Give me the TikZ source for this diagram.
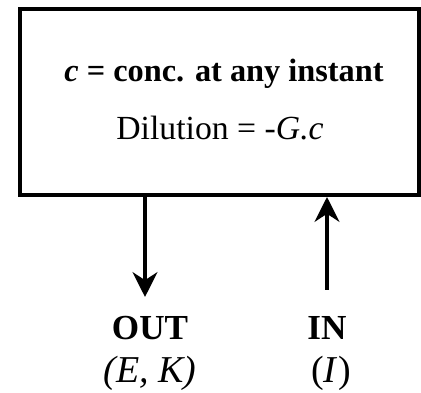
\documentclass[tikz,border=0pt]{standalone}
\usepackage{fontspec}
\setmainfont{Liberation Serif}
\usetikzlibrary{arrows.meta}

\begin{document}
\begin{tikzpicture}[
		wand/.style={draw, rectangle, line width=0.1cm},
		fluss/.style={line width=0.1cm, -{Stealth[length=0.62cm, width=0.62cm, inset=0.2cm]}},
		schrift/.style={inner sep=0pt, anchor=base, font=\fontsize{#1}{#1}\selectfont},
		schrift/.default=23
	]
	%\draw [lightgray](0,0) grid (10,10);
	\useasboundingbox (0,0) rectangle (10.525,9.825);
	
	% Zeichnet den Behaelter
	\node[wand, minimum width=9.975cm, minimum height=4.65cm] (tank) at (5.4875,7.275) {};
	
	% Schreibt die Konzentration und die Verduennung
	\node[schrift=23] (konz) at (5.6,7.775) {\textbf{\textit{c} = conc. at any instant}};
	\node[schrift=24] (verd) at (5.5,6.325) {Dilution = -\textit{G.c}};
	
	% Schreibt Ausfluss und Zufluss
	\node[schrift=25] (aus) at (3.75,1.325) {\textbf{OUT}};
	\node[schrift=27] (ausgr) at (3.75,0.25) {\textit{(E, K)}};
	\node[schrift=25] (ein) at (8.175,1.325) {\textbf{IN}};
	\node[schrift=27] (eingr) at (8.275,0.25) {(\textit{I})};
	
	% Zeichnet Pfeil 1 (Ausfluss nach unten)
	\coordinate (ausende) at (3.625,2.4);
	\draw[fluss] (tank.south -| ausende) -- (ausende);
	
	% Zeichnet Pfeil 2 (Zufluss nach oben)
	\coordinate (einstart) at (8.175,2.575);
	\draw[fluss] (einstart) -- (tank.south -| einstart);
\end{tikzpicture}
\end{document}
